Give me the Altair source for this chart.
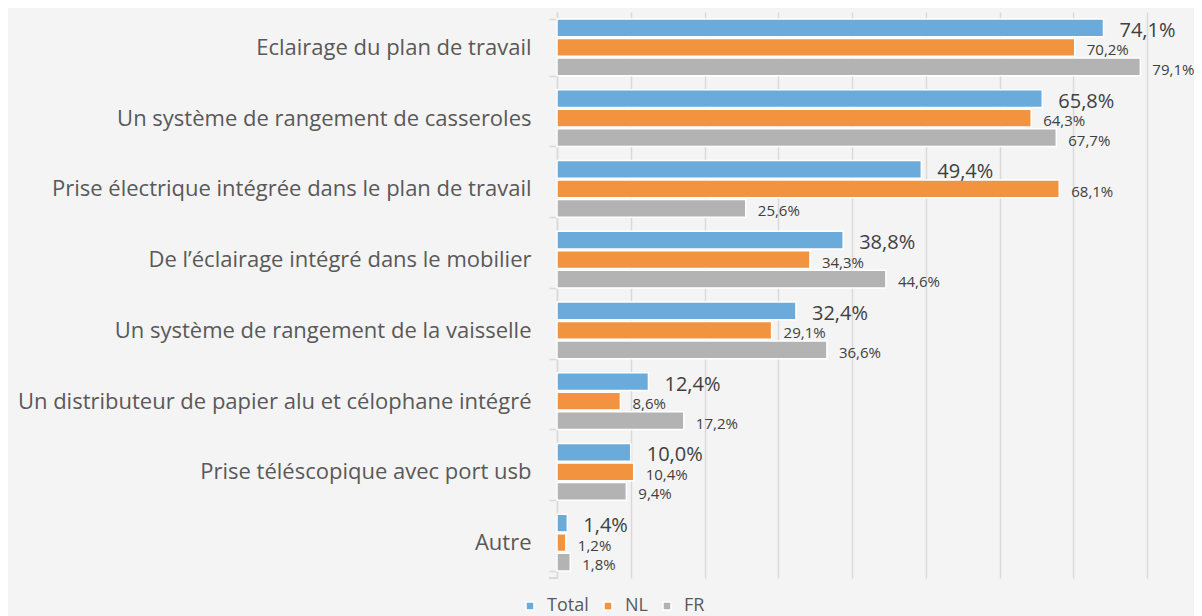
import altair as alt
import pandas as pd

categories = [
    "Eclairage du plan de travail",
    "Un système de rangement de casseroles",
    "Prise électrique intégrée dans le plan de travail ",
    "De l’éclairage intégré dans le mobilier",
    "Un système de rangement de la vaisselle",
    "Un distributeur de papier alu et célophane intégré",
    "Prise téléscopique avec port usb",
    "Autre",
]
series = ["Total", "NL", "FR"]
total = [74.1, 65.8, 49.4, 38.8, 32.4, 12.4, 10.0, 1.4]
nl = [70.2, 64.3, 68.1, 34.3, 29.1, 8.6, 10.4, 1.2]
fr = [79.1, 67.7, 25.6, 44.6, 36.6, 17.2, 9.4, 1.8]
colors = ["#6aabdc", "#f29340", "#b3b3b3"]

rows = []
for i, c in enumerate(categories):
    for s, vals in zip(series, [total, nl, fr]):
        v = vals[i]
        rows.append({"cat": c, "serie": s, "value": v,
                     "label": f"{v:.1f}".replace(".", ",") + "%"})
df = pd.DataFrame(rows)

W, H = 590, 566
FONT = "Open Sans"

y = alt.Y("cat:N", sort=categories, title=None,
          scale=alt.Scale(paddingInner=0.2, paddingOuter=0.1),
          axis=alt.Axis(labelFontSize=22, labelColor="#595959", labelFont=FONT,
                        labelPadding=18, tickSize=8, tickBand="extent",
                        tickColor="#d9d9d9", tickWidth=1.5,
                        domainColor="#d9d9d9", domainWidth=1.5, grid=False,
                        labelLimit=700))
yoff = alt.YOffset("serie:N", sort=series,
                   scale=alt.Scale(domain=series, paddingInner=0.1, paddingOuter=0))
x = alt.X("value:Q", title=None,
          scale=alt.Scale(domain=[0, 80], nice=False),
          axis=alt.Axis(values=[0, 10, 20, 30, 40, 50, 60, 70, 80], labels=False,
                        ticks=False, domain=False, grid=True,
                        gridColor="#d9d9d9", gridWidth=1.5))

bars = alt.Chart(df).mark_bar(stroke="white", strokeWidth=1.5).encode(
    y=y, yOffset=yoff, x=x,
    color=alt.Color("serie:N", sort=series,
                    scale=alt.Scale(domain=series, range=colors),
                    legend=alt.Legend(title=None, orient="none", direction="horizontal",
                                      legendX=-36, legendY=585, padding=0,
                                      symbolType="square", symbolSize=64,
                                      symbolStrokeColor="white", symbolStrokeWidth=1.5,
                                      labelFontSize=18, labelColor="#595959",
                                      labelFont=FONT, labelOffset=8,
                                      columnPadding=10)),
)

text_total = alt.Chart(df).transform_filter(
    alt.datum.serie == "Total"
).mark_text(align="left", baseline="middle", dx=16, dy=3,
            font=FONT, color="#404040").encode(
    y=alt.Y("cat:N", sort=categories),
    yOffset=alt.YOffset("serie:N", sort=series),
    x=alt.X("value:Q"),
    text="label:N",
    size=alt.value(20),
)
text_other = alt.Chart(df).transform_filter(
    alt.datum.serie != "Total"
).mark_text(align="left", baseline="middle", dx=12, dy=3,
            font=FONT, color="#404040").encode(
    y=alt.Y("cat:N", sort=categories),
    yOffset=alt.YOffset("serie:N", sort=series),
    x=alt.X("value:Q"),
    text="label:N",
    size=alt.value(15),
)

bottom_tick = alt.Chart(df).mark_rule(color="#d9d9d9", strokeWidth=1.5).encode(
    x=alt.value(-8), x2=alt.value(0), y=alt.value(H)
)

chart = alt.layer(bars, text_total, text_other, bottom_tick).properties(
    width=W, height=H,
    autosize=alt.AutoSizeParams(type="none"),
    padding={"left": 549, "top": 4, "right": 47, "bottom": 38},
).configure(background="#f4f4f4").configure_view(stroke=None, fill="#f4f4f4")

chart.save("out.html", embed_options={"renderer": "svg", "actions": False})
